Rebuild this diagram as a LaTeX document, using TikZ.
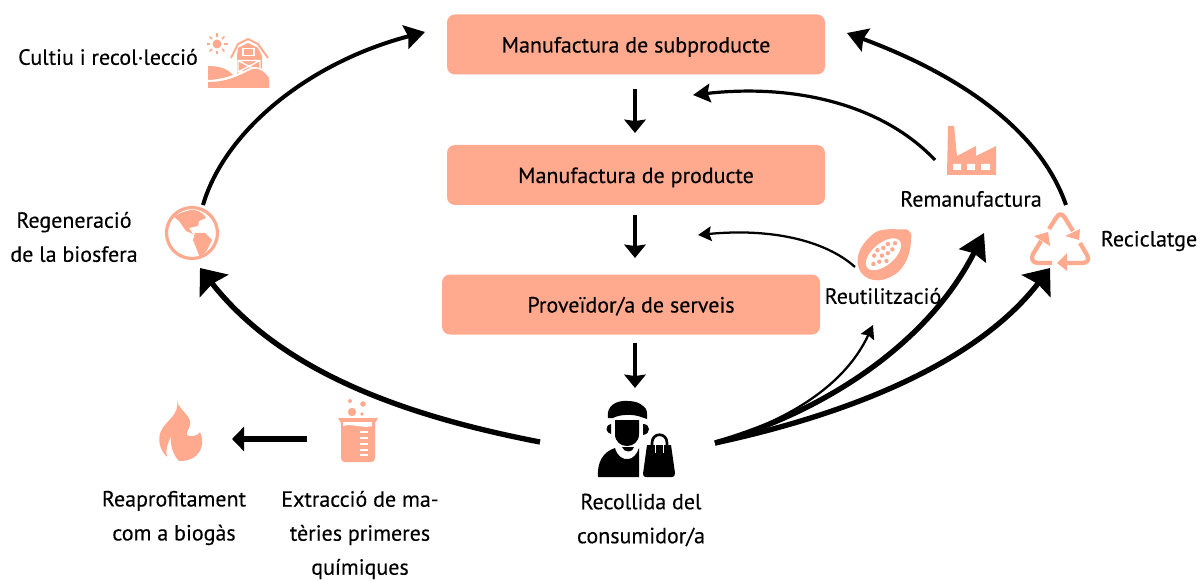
\documentclass[tikz,border=0pt]{standalone}
\usepackage{fontspec}
\setmainfont[FakeBold=0.25]{PT Sans}
\usetikzlibrary{arrows.meta}
\definecolor{salmon}{HTML}{FFA98F}
\newcommand{\boxtxt}[1]{\raisebox{-6pt}[0pt][0pt]{#1}}
\tikzset{
  boxn/.style={fill=salmon,rounded corners=6pt,minimum width=283.5pt,minimum height=45pt,inner sep=0pt,font=\fontsize{16.5}{20}\selectfont,text=black},
  lab/.style={font=\fontsize{16.5}{25.5}\selectfont,align=center,inner sep=0pt,text=black},
  ic/.style={fill=salmon,draw=none},
  wh/.style={fill=white,draw=none},
  flow/.style={draw=black,line cap=butt},
  small/.style={flow,line width=1.7pt,-{Stealth[length=10pt,width=11pt,inset=1.5pt]}},
  mid/.style={flow,line width=3pt,-{Stealth[length=15pt,width=18pt,inset=2pt]}},
  thin/.style={flow,line width=2.4pt,-{Stealth[length=13pt,width=14pt,inset=2pt]}},
  big/.style={flow,line width=4pt,-{Stealth[length=17pt,width=27pt,inset=2pt]}},
  bigg/.style={flow,line width=4pt,-{Stealth[length=19pt,width=22pt,inset=2pt]}},
  down/.style={flow,line width=3pt,-{Stealth[length=10pt,width=16pt,inset=1pt]}},
  rec/.style={draw=salmon,line width=3.2pt,line join=round,fill=none},
}
\begin{document}
\begin{tikzpicture}[x=0.75pt,y=-0.75pt]
\useasboundingbox (0,0) rectangle (1200,581);
% boxes
\node[boxn] (sub) at (636,44.5) {\boxtxt{Manufactura de subproducte}};
\node[boxn] (prod) at (636,175) {\boxtxt{Manufactura de producte}};
\node[boxn] (serv) at (631,304.5) {\boxtxt{Proveïdor/a de serveis}};
% labels
\node[lab] (cultiu) at (108,57) {Cultiu i recol·lecció};
\node[lab] (regen) at (74,237) {Regeneració\\de la biosfera};
\node[lab] (reman) at (971,199) {Remanufactura};
\node[lab] (recic) at (1149,241) {Reciclatge};
\node[lab] (reut) at (883,296) {Reutilització};
\node[lab] (reap) at (174,518) {Reaprofitament\\com a biogàs};
\node[lab] (extr) at (360,535) {Extracció de ma-\\tèries primeres\\químiques};
\node[lab] (recol) at (641,520) {Recollida del\\consumidor/a};
% connector ends
\coordinate (a0) at (203,205); \coordinate (a1) at (425,32);
\coordinate (b0) at (540,442); \coordinate (b1) at (200,268);
\coordinate (c0) at (1066,205); \coordinate (c1) at (847,33);
\coordinate (d0) at (935,160); \coordinate (d1) at (693,95);
\coordinate (e0) at (855,267); \coordinate (e1) at (698,235);
\coordinate (f0) at (715,443); \coordinate (f1) at (873,325);
\coordinate (g1) at (984,233); \coordinate (h1) at (1050,268);
\coordinate (s1) at (635,89); \coordinate (s2) at (635,133);
\coordinate (s3) at (635,215); \coordinate (s4) at (635,258);
\coordinate (s5) at (635,343); \coordinate (s6) at (635,388);
\coordinate (t0) at (307,439); \coordinate (t1) at (232,439);
% curved connectors
\draw[mid] (a0) .. controls (225,130) and (310,62) .. (a1);
\draw[big] (b0) .. controls (400,415) and (280,370) .. (b1);
\draw[mid] (c0) .. controls (1040,130) and (960,75) .. (c1);
\draw[thin] (d0) .. controls (880,102) and (790,84) .. (d1);
\draw[small] (e0) .. controls (825,240) and (770,228) .. (e1);
\draw[small] (f0) .. controls (790,420) and (845,385) .. (f1);
\draw[bigg] (f0) .. controls (830,410) and (930,340) .. (g1);
\draw[big] (f0) .. controls (845,415) and (975,365) .. (h1);
% straight connectors
\draw[down] (s1) -- (s2);
\draw[down] (s3) -- (s4);
\draw[down] (s5) -- (s6);
\draw[flow,line width=4.5pt,-{Stealth[length=9pt,width=18pt,inset=0pt]}] (t0) -- (t1);
% barn icon
\fill[ic] (238,48) -- (248,43) -- (258,48) -- (262,56) -- (262,74) -- (237,76) -- (237,56) -- cycle;
\draw[salmon,line width=1.5pt,line join=round] (231,58) -- (238,44) -- (248,39) -- (258,44) -- (268,58);
\draw[white,line width=.9pt] (243,48.5) rectangle (254,55.5);
\draw[white,line width=1pt] (238,60.5) rectangle (260,72) (238,60.5) -- (260,72) (260,60.5) -- (238,72);
\fill[ic] (208,66) .. controls (220,66) and (228,69) .. (233,75) .. controls (222,79) and (215,80) .. (208,80) -- cycle;
\fill[white] (208,80) .. controls (225,80) and (240,73) .. (250,68) .. controls (258,65) and (267,70) .. (271,78) -- (271,82) -- (208,84) -- cycle;
\fill[ic] (208,82) .. controls (228,82) and (240,75) .. (250,70) .. controls (258,66) and (265,72) .. (269,78) -- (269,88) -- (208,88) -- cycle;
\fill[ic] (217,44) circle (4.5);
\foreach \a in {0,45,...,315}
  \draw[salmon,line width=1.1pt] (217,44) ++(\a:7) -- ++(\a:3.5);
% globe
\draw[salmon,line width=2.4pt] (192,233) circle (25.5);
\fill[ic] (187,211) .. controls (194,208) and (203,212) .. (206,218) -- (199,221) -- (198,226) -- (189,228) -- (193,234) -- (186,231) -- (179,221) -- (174,217) .. controls (178,214) and (182,212) .. (187,211) -- cycle;
\fill[ic] (195,233) -- (205,233) -- (212,240) -- (207,250) -- (200,258) -- (197,250) -- (193,240) -- cycle;
% factory
\fill[ic] (948,126) -- (954,126) -- (957,156) -- (976,146) -- (976,156) -- (996,146) -- (996,175) -- (947,175) -- cycle;
\fill[wh] (953,164) rectangle (961,170) (967,164) rectangle (975,170) (981,164) rectangle (990,170);
% papaya
\begin{scope}[shift={(885,253)},rotate=40]
\fill[ic] (-31,0) .. controls (-29,-17) and (-12,-23) .. (6,-22) .. controls (16,-20) and (24,-10) .. (32,-4) .. controls (33,0) and (33,3) .. (30,5) .. controls (22,14) and (12,22) .. (-2,23) .. controls (-18,23) and (-31,14) .. (-31,0) -- cycle;
\fill[wh] (-2,0) ellipse (21 and 11);
\foreach \p/\q in {-16/1,-10/-5,-10/3,-4/-7,-4/0,-4/7,2/-5,2/2,8/-5,8/2,14/-1}
  \fill[ic] (\p,\q) circle (2.2);
\end{scope}
% recycling
\draw[rec] (1049,229) -- (1056,218) .. controls (1059,213) and (1062,213) .. (1065,218) -- (1073,231);
\fill[ic] (1065,236) -- (1080,229) -- (1079,240) -- cycle;
\draw[rec] (1052,263) -- (1038,263) .. controls (1032,263) and (1031,258) .. (1033,254) -- (1041,241);
\fill[ic] (1034,236) -- (1048,232) -- (1050,246) -- cycle;
\draw[rec] (1080,243) -- (1087,255) .. controls (1090,260) and (1087,263) .. (1082,263) -- (1064,263);
\fill[ic] (1057,263) -- (1067,253) -- (1067,271) -- cycle;
% flame
\fill[ic] (177,400) .. controls (178,410) and (192,415) .. (190,425) .. controls (189,430) and (186,432) .. (187,435) .. controls (191,438) and (199,435) .. (200,432) .. controls (204,440) and (203,452) .. (193,458) .. controls (187,461) and (182,461) .. (179,461) .. controls (173,455) and (170,445) .. (171,436) .. controls (168,443) and (165,450) .. (167,457) .. controls (160,450) and (157,440) .. (161,431) .. controls (166,420) and (180,415) .. (177,400) -- cycle;
% beaker
\fill[ic] (338,418) -- (378,418) -- (375,423) -- (375,458) .. controls (375,461) and (373,462) .. (371,462) -- (345,462) .. controls (343,462) and (341,461) .. (341,458) -- (341,423) -- cycle;
\fill[wh] (343,422) -- (372,422) -- (372,426) .. controls (362,429) and (353,423) .. (343,426) -- cycle;
\foreach \yy in {431,437,443,449,454}
  \fill[wh] (360,\yy) rectangle (368,\yy+2.4);
\fill[ic] (352,412) circle (4.2) (363,404) circle (2.8) (350,401) circle (2) (362,414) circle (1.9);
% consumer
\fill[black] (608,418) .. controls (606,406) and (616,400) .. (628,401) .. controls (635,401) and (640,403) .. (643,406) .. controls (648,409) and (647,414) .. (647,419) -- (641,417) .. controls (634,414) and (620,414) .. (613,418) -- cycle;
\fill[black] (615,420) -- (639,420) -- (639,434) .. controls (639,442) and (633,446) .. (627,446) .. controls (621,446) and (615,442) .. (615,434) -- cycle;
\fill[black] (611,424) -- (611,434) .. controls (606,433) and (604,426) .. (611,424) -- cycle;
\fill[black] (643,424) .. controls (651,424) and (651,434) .. (643,435) -- cycle;
\fill[black] (598,477) .. controls (597,462) and (603,452) .. (615,448) .. controls (617,456) and (623,460) .. (628,459) .. controls (633,459) and (637,454) .. (639,448) -- (639,477) -- cycle;
\fill[black] (622,447) -- (634,447) .. controls (633,453) and (624,453) .. (622,447) -- cycle;
\fill[black] (647,445) -- (671,445) -- (675,473) .. controls (675,476) and (674,477) .. (672,477) -- (646,477) .. controls (644,477) and (643,476) .. (643,474) -- cycle;
\draw[black,line width=2pt] (652,447) -- (652,443) .. controls (652,432) and (667,432) .. (667,443) -- (667,447);
\draw[white,line width=1.2pt] (655.5,443) -- (655.5,453) (663.5,443) -- (663.5,453);
\end{tikzpicture}
\end{document}
